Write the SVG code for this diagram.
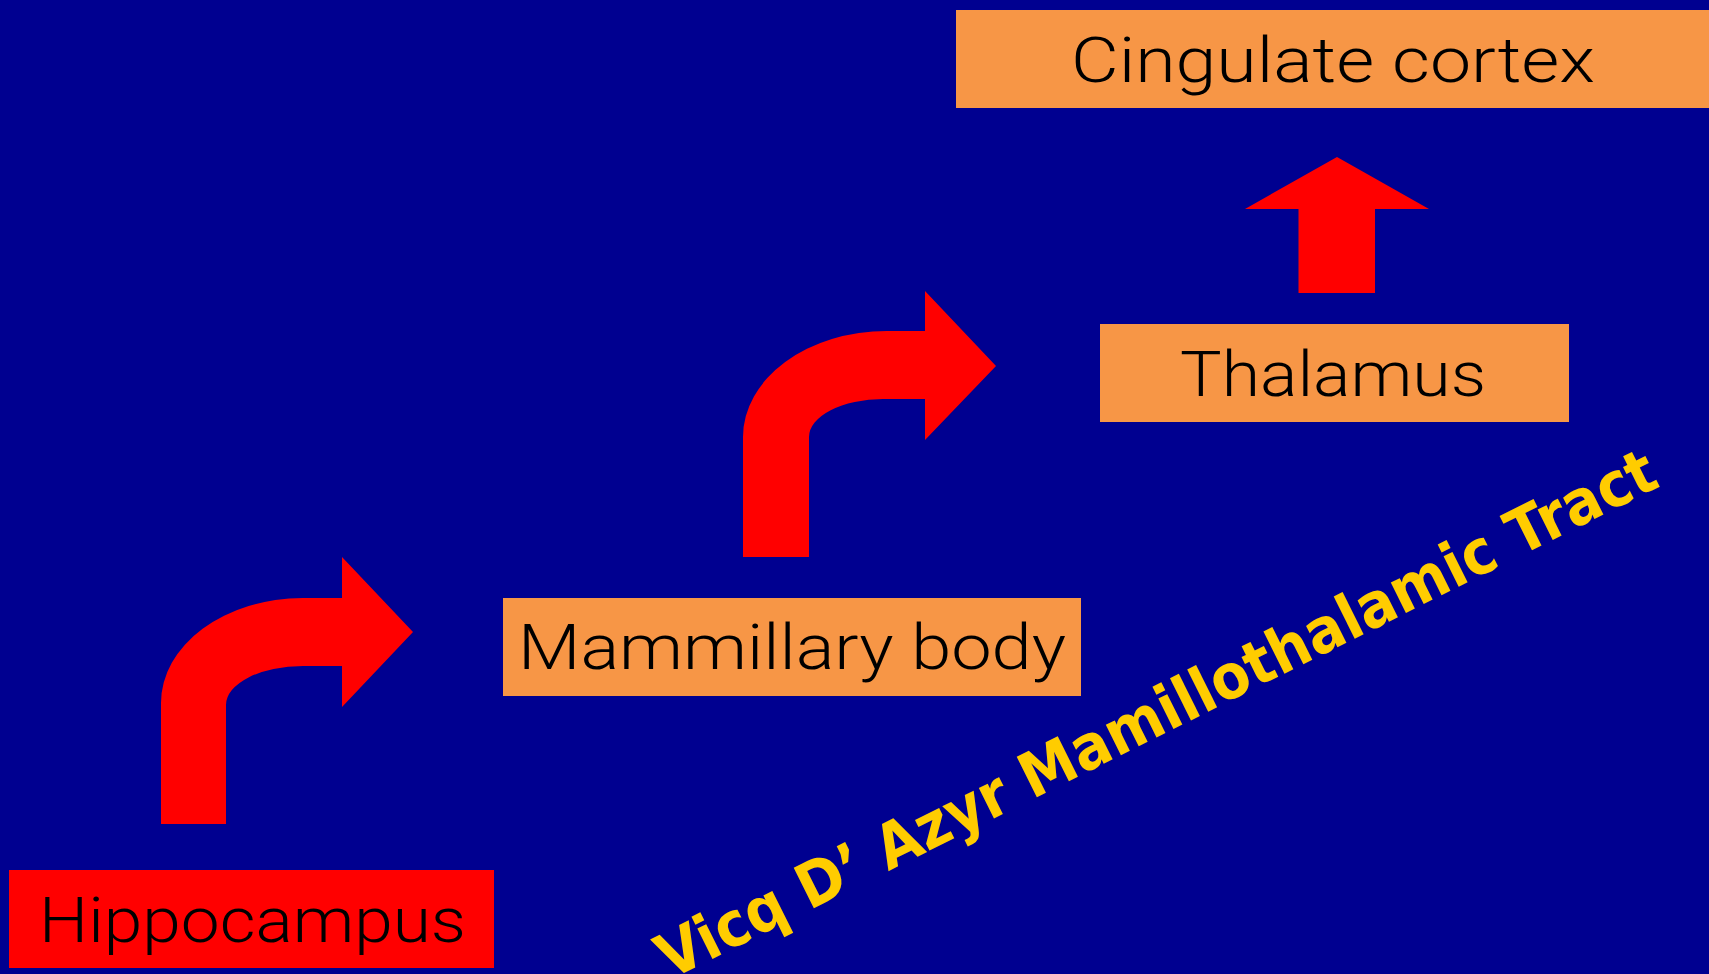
<svg xmlns="http://www.w3.org/2000/svg" width="1709" height="974" viewBox="0 0 1709 974">
<style>
.box-o{fill:#F79646}
.box-r{fill:#FF0000}
.lbl{font-family:Roboto,"Liberation Sans",sans-serif;font-weight:300;font-size:63px;fill:#000000}
.arrow{fill:#FF0000}
.title{font-family:"DejaVu Sans","Liberation Sans",sans-serif;font-weight:bold;font-size:62px;fill:#FFCC00}
</style>
<rect x="0" y="0" width="1709" height="974" fill="#000090"/>
<g id="connectors">
<path class="arrow" d="M161,824 L161,703 A142,105 0 0 1 303,598 L342,598 L342,557 L413,632 L342,707 L342,666 L303,666 A77,39 0 0 0 226,705 L226,824 Z"/>
<path class="arrow" d="M743,557 L743,437 A144,106 0 0 1 887,331 L925,331 L925,291 L996,366 L925,440 L925,399 L883,399 A74,38 0 0 0 809,437 L809,557 Z"/>
<path class="arrow" d="M1298.5,293 L1298.5,209 L1245,209 L1337,157 L1429,209 L1375,209 L1375,293 Z"/>
</g>
<g id="cingulate">
<rect class="box-o" x="956" y="10" width="753" height="98"/>
<text class="lbl" x="1071" y="82" textLength="524" lengthAdjust="spacingAndGlyphs">Cingulate cortex</text>
</g>
<g id="thalamus">
<rect class="box-o" x="1100" y="324" width="469" height="98"/>
<text class="lbl" x="1180" y="396" textLength="306" lengthAdjust="spacingAndGlyphs">Thalamus</text>
</g>
<g id="mammillary">
<rect class="box-o" x="503" y="598" width="578" height="98"/>
<text class="lbl" x="518" y="669" textLength="548" lengthAdjust="spacingAndGlyphs">Mammillary body</text>
</g>
<g id="hippocampus">
<rect class="box-r" x="9" y="870" width="485" height="98"/>
<text class="lbl" x="39" y="942" textLength="427" lengthAdjust="spacingAndGlyphs">Hippocampus</text>
</g>
<g id="tract-label">
<text class="title" transform="translate(670,980) rotate(-26.5)" x="0" y="0" textLength="1108" lengthAdjust="spacingAndGlyphs">Vicq D’ Azyr Mamillothalamic Tract</text>
</g>
</svg>
